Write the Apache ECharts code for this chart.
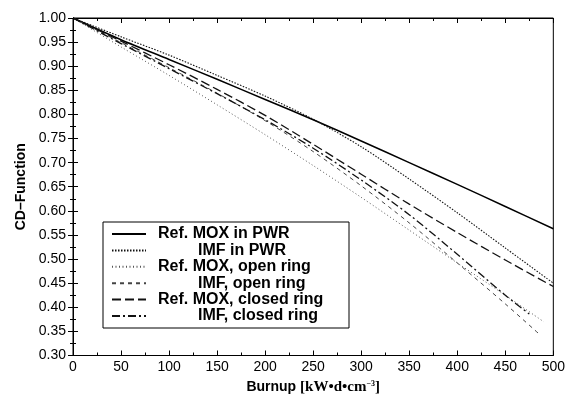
<!DOCTYPE html>
<html>
<head>
<meta charset="utf-8">
<script src="https://cdn.jsdelivr.net/npm/echarts@6/dist/echarts.min.js"></script>
<style>
html,body{margin:0;padding:0;background:#fff;}
#c{width:568px;height:400px;}
</style>
</head>
<body>
<div id="c"></div>
<script>
// Burnup values (x) per series
const xFull = [0, 50, 100, 150, 200, 250, 300, 350, 400, 450, 500];
const xOpenMOX = [0, 50, 100, 150, 200, 250, 300, 350, 400, 450, 490];
const xOpenIMF = [0, 50, 100, 150, 200, 250, 300, 350, 400, 450, 485];
const xClosedIMF = [0, 50, 100, 150, 200, 250, 300, 350, 400, 450, 475];

// CD-Function values
const refMoxPWR   = [1.000, 0.955, 0.914, 0.873, 0.831, 0.789, 0.745, 0.700, 0.655, 0.609, 0.563];
const imfPWR      = [1.000, 0.961, 0.923, 0.881, 0.838, 0.790, 0.733, 0.666, 0.596, 0.523, 0.450];
const refMoxOpen  = [1.000, 0.940, 0.881, 0.820, 0.758, 0.694, 0.628, 0.560, 0.492, 0.425, 0.370];
const imfOpen     = [1.000, 0.949, 0.897, 0.844, 0.787, 0.723, 0.652, 0.575, 0.492, 0.407, 0.345];
const refMoxClosed= [1.000, 0.952, 0.903, 0.852, 0.798, 0.738, 0.676, 0.614, 0.555, 0.498, 0.443];
const imfClosed   = [1.000, 0.947, 0.895, 0.843, 0.789, 0.730, 0.664, 0.592, 0.510, 0.425, 0.386];

const names = ['Ref. MOX in PWR', 'IMF in PWR', 'Ref. MOX, open ring', 'IMF, open ring', 'Ref. MOX, closed ring', 'IMF, closed ring'];

function pairs(xs, ys) { return xs.map((x, i) => [x, ys[i]]); }

const chart = echarts.init(document.getElementById('c'), null, {renderer: 'canvas'});

const tickFont = {fontFamily: 'Liberation Sans, Arial, sans-serif', fontSize: 14, color: '#000'};

function mkSeries(name, data, lineStyle) {
  return {
    name: name, type: 'line', data: data, symbol: 'none', smooth: 0.3,
    color: lineStyle.color,
    xAxisIndex: 0, yAxisIndex: 0,
    lineStyle: lineStyle, animation: false
  };
}

function sideAxis(pos, min, max, interval) {
  return {
    type: 'value', min: min, max: max, interval: interval, position: pos,
    axisLine: {show: true, lineStyle: {color: '#000', width: 1}},
    axisTick: {show: true, inside: true, length: 5, lineStyle: {color: '#000'}},
    minorTick: {show: true, splitNumber: 2, length: 3, lineStyle: {color: '#000'}},
    splitLine: {show: false},
    axisLabel: {show: false}
  };
}

const option = {
  animation: false,
  backgroundColor: '#fff',
  grid: {left: 73, right: 11, top: 18, bottom: 34, show: true, borderColor: '#000', borderWidth: 1},
  xAxis: [{
    type: 'value', min: 0, max: 500, interval: 50,
    name: '{a|Burnup }{b|[kW•d•cm}{c|−3}{b|]}',
    nameLocation: 'middle', nameGap: 24,
    nameTextStyle: {
      rich: {
        a: {fontFamily: 'Liberation Sans, Arial', fontWeight: 'bold', fontSize: 14, color: '#000'},
        b: {fontFamily: 'Liberation Serif, Times New Roman', fontWeight: 'bold', fontSize: 15, color: '#000'},
        c: {fontFamily: 'Liberation Serif, Times New Roman', fontWeight: 'bold', fontSize: 8, color: '#000', verticalAlign: 'top', padding: [0, 0, 8, 0]}
      }
    },
    axisLine: {show: true, lineStyle: {color: '#000', width: 1}},
    axisTick: {show: true, inside: true, length: 5, lineStyle: {color: '#000'}},
    minorTick: {show: true, splitNumber: 2, length: 3, lineStyle: {color: '#000'}},
    splitLine: {show: false},
    axisLabel: Object.assign({margin: 5}, tickFont)
  }, sideAxis('top', 0, 500, 50)],
  yAxis: [{
    type: 'value', min: 0.3, max: 1.0, interval: 0.05,
    name: 'CD–Function', nameLocation: 'middle', nameGap: 45,
    nameTextStyle: {fontFamily: 'Liberation Sans, Arial', fontWeight: 'bold', fontSize: 14, color: '#000'},
    axisLine: {show: true, lineStyle: {color: '#000', width: 1}},
    axisTick: {show: true, inside: true, length: 5, lineStyle: {color: '#000'}},
    minorTick: {show: true, splitNumber: 2, length: 3, lineStyle: {color: '#000'}},
    splitLine: {show: false},
    axisLabel: Object.assign({margin: 7, formatter: v => v.toFixed(2)}, tickFont)
  }, sideAxis('right', 0.3, 1.0, 0.05)],
  legend: {
    orient: 'vertical', left: 103, top: 222,
    backgroundColor: '#fff',
    borderColor: '#000', borderWidth: 1,
    padding: [4, 5, 4, 8],
    itemWidth: 34, itemHeight: 14, itemGap: 0.4,
    itemStyle: {opacity: 0},
    data: names,
    formatter: function (n) { return (n.indexOf('IMF') === 0 ? '{i|' : '{r|') + n + '}'; },
    textStyle: {
      fontFamily: 'Liberation Sans, Arial', fontWeight: 'bold', fontSize: 16, color: '#000',
      rich: {
        r: {fontFamily: 'Liberation Sans, Arial', fontWeight: 'bold', fontSize: 16, color: '#000', width: 186, padding: [0, 0, 0, 7], lineHeight: 14},
        i: {fontFamily: 'Liberation Sans, Arial', fontWeight: 'bold', fontSize: 16, color: '#000', width: 146, padding: [0, 0, 0, 47], lineHeight: 14}
      }
    }
  },
  series: [
    mkSeries(names[0], pairs(xFull, refMoxPWR), {color: '#000', width: 1.5, type: 'solid'}),
    mkSeries(names[1], pairs(xFull, imfPWR), {color: '#111', width: 1.1, type: [1.5, 1.5]}),
    mkSeries(names[2], pairs(xOpenMOX, refMoxOpen), {color: '#555', width: 1, type: [1, 2.5]}),
    mkSeries(names[3], pairs(xOpenIMF, imfOpen), {color: '#444', width: 1, type: [4, 4]}),
    mkSeries(names[4], pairs(xFull, refMoxClosed), {color: '#111', width: 1.3, type: [9, 4]}),
    mkSeries(names[5], pairs(xClosedIMF, imfClosed), {color: '#111', width: 1.3, type: [8, 3, 2, 3]})
  ]
};
chart.setOption(option);
</script>
</body>
</html>
